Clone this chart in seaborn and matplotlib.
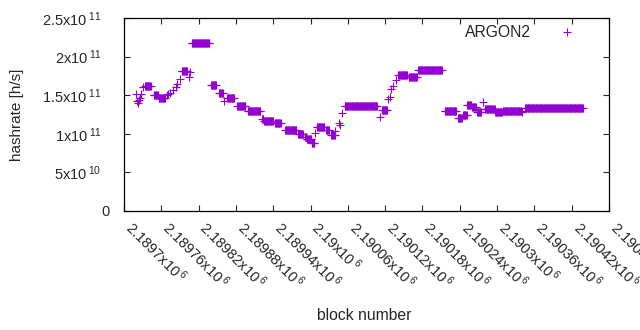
import numpy as np
import pandas as pd
import matplotlib
matplotlib.use("Agg")
import matplotlib.pyplot as plt
import seaborn as sns

# runs of blocks with the same estimated hashrate: first block, last block, value
run_start = [2189719, 2189721, 2189723, 2189724, 2189726, 2189728, 2189731,
             2189734, 2189748, 2189756, 2189769, 2189771, 2189774, 2189779,
             2189783, 2189786, 2189790, 2189793, 2189805, 2189806, 2189809,
             2189840, 2189853, 2189861, 2189866, 2189882, 2189899, 2189922,
             2189925, 2189943, 2189959, 2189980, 2189991, 2189994, 2190002,
             2190007, 2190010, 2190025, 2190033, 2190040, 2190045, 2190047,
             2190051, 2190055, 2190112, 2190115, 2190125, 2190128, 2190130,
             2190133, 2190137, 2190141, 2190158, 2190173, 2190216, 2190237,
             2190245, 2190252, 2190260, 2190268, 2190278, 2190280, 2190297,
             2190309, 2190340, 2190345]
run_end = [2189719, 2189721, 2189723, 2189724, 2189726, 2189728, 2189731,
           2189743, 2189755, 2189766, 2189769, 2189771, 2189774, 2189779,
           2189783, 2189786, 2189790, 2189801, 2189805, 2189806, 2189837,
           2189848, 2189859, 2189861, 2189877, 2189895, 2189919, 2189924,
           2189940, 2189952, 2189977, 2189988, 2189993, 2190001, 2190006,
           2190007, 2190022, 2190030, 2190039, 2190040, 2190045, 2190047,
           2190051, 2190107, 2190112, 2190123, 2190125, 2190128, 2190130,
           2190133, 2190137, 2190155, 2190171, 2190211, 2190234, 2190243,
           2190251, 2190258, 2190266, 2190274, 2190278, 2190296, 2190308,
           2190339, 2190340, 2190438]
run_value = [1.51e11, 1.43e11, 1.40e11, 1.44e11, 1.46e11, 1.51e11, 1.60e11,
             1.62e11, 1.50e11, 1.47e11, 1.50e11, 1.51e11, 1.53e11, 1.57e11,
             1.60e11, 1.65e11, 1.71e11, 1.81e11, 1.74e11, 1.80e11, 2.172e11,
             1.632e11, 1.525e11, 1.425e11, 1.46e11, 1.355e11, 1.295e11, 1.19e11,
             1.166e11, 1.14e11, 1.05e11, 0.997e11, 0.96e11, 0.93e11, 0.877e11,
             1.01e11, 1.09e11, 1.05e11, 0.985e11, 1.03e11, 1.135e11, 1.114e11,
             1.265e11, 1.36e11, 1.22e11, 1.31e11, 1.45e11, 1.48e11, 1.58e11,
             1.62e11, 1.70e11, 1.76e11, 1.74e11, 1.826e11, 1.30e11, 1.20e11,
             1.243e11, 1.373e11, 1.343e11, 1.286e11, 1.416e11, 1.317e11, 1.286e11,
             1.30e11, 1.286e11, 1.33e11]

x_ticks = [2189700 + 60 * k for k in range(14)]
x_labels = ["2.1897", "2.18976", "2.18982", "2.18988", "2.18994", "2.19",
            "2.19006", "2.19012", "2.19018", "2.19024", "2.1903", "2.19036",
            "2.19042", "2.19048"]
y_ticks = [0, 5e10, 1e11, 1.5e11, 2e11, 2.5e11]
y_labels = ["0", "5x10$^{\\;10}$", "1x10$^{\\;11}$", "1.5x10$^{\\;11}$",
            "2x10$^{\\;11}$", "2.5x10$^{\\;11}$"]

blocks, rates = [], []
for s, e, v in zip(run_start, run_end, run_value):
    for b in range(s, e + 1):
        blocks.append(b)
        rates.append(v)
df = pd.DataFrame({"block": blocks, "hashrate": rates})

sns.set_style("white")
plt.rcParams["font.family"] = ["Liberation Sans", "DejaVu Sans"]
plt.rcParams["mathtext.fontset"] = "custom"
plt.rcParams["mathtext.rm"] = "Liberation Sans"
plt.rcParams["mathtext.it"] = "Liberation Sans"

fig = plt.figure(figsize=(6.4, 3.3), dpi=100)
ax = fig.add_axes([124 / 640, 1 - 211 / 330, 485 / 640, 193 / 330])

sns.scatterplot(data=df, x="block", y="hashrate", marker="+", color="#9400D3",
                s=28, linewidth=0.8, label="ARGON2", ax=ax)

ax.set_xlim(2189700, 2190480)
ax.set_ylim(0, 2.5e11)
ax.set_xticks(x_ticks)
ax.set_xticklabels([l + "x10$^{\\;6}$" for l in x_labels], rotation=-45,
                   ha="left", va="baseline", rotation_mode="anchor",
                   fontsize=10.5)
ax.set_yticks(y_ticks)
ax.set_yticklabels([])
ax.tick_params(direction="in", length=4, width=0.8, top=True, right=True,
               bottom=True, left=True, labeltop=False, labelright=False)
ax.tick_params(axis="x", pad=13)

# gnuplot leaves extra room after the superscript labels
ytrans = ax.get_yaxis_transform()
for val, lab in zip(y_ticks, y_labels):
    xoff = -0.029 if lab == "0" else -0.046
    ax.text(xoff, val, lab, transform=ytrans, ha="right", va="center_baseline",
            fontsize=10.5)

for sp in ax.spines.values():
    sp.set_color("black")
    sp.set_linewidth(0.9)

ax.set_xlabel("block number", fontsize=11.3)
ax.set_ylabel("hashrate [h/s]", fontsize=11)
ax.xaxis.set_label_coords(0.495, -0.544)
ax.yaxis.set_label_coords(-0.2206, 0.5)
ax.yaxis.label.set_va("center")
ax.xaxis.label.set_va("center")

ax.legend(loc="center right", bbox_to_anchor=(0.929, 0.927), frameon=False,
          markerfirst=False, fontsize=11.3, handletextpad=1.77,
          handlelength=1.0, borderaxespad=0, borderpad=0)

fig.savefig("out.png", dpi=100)
